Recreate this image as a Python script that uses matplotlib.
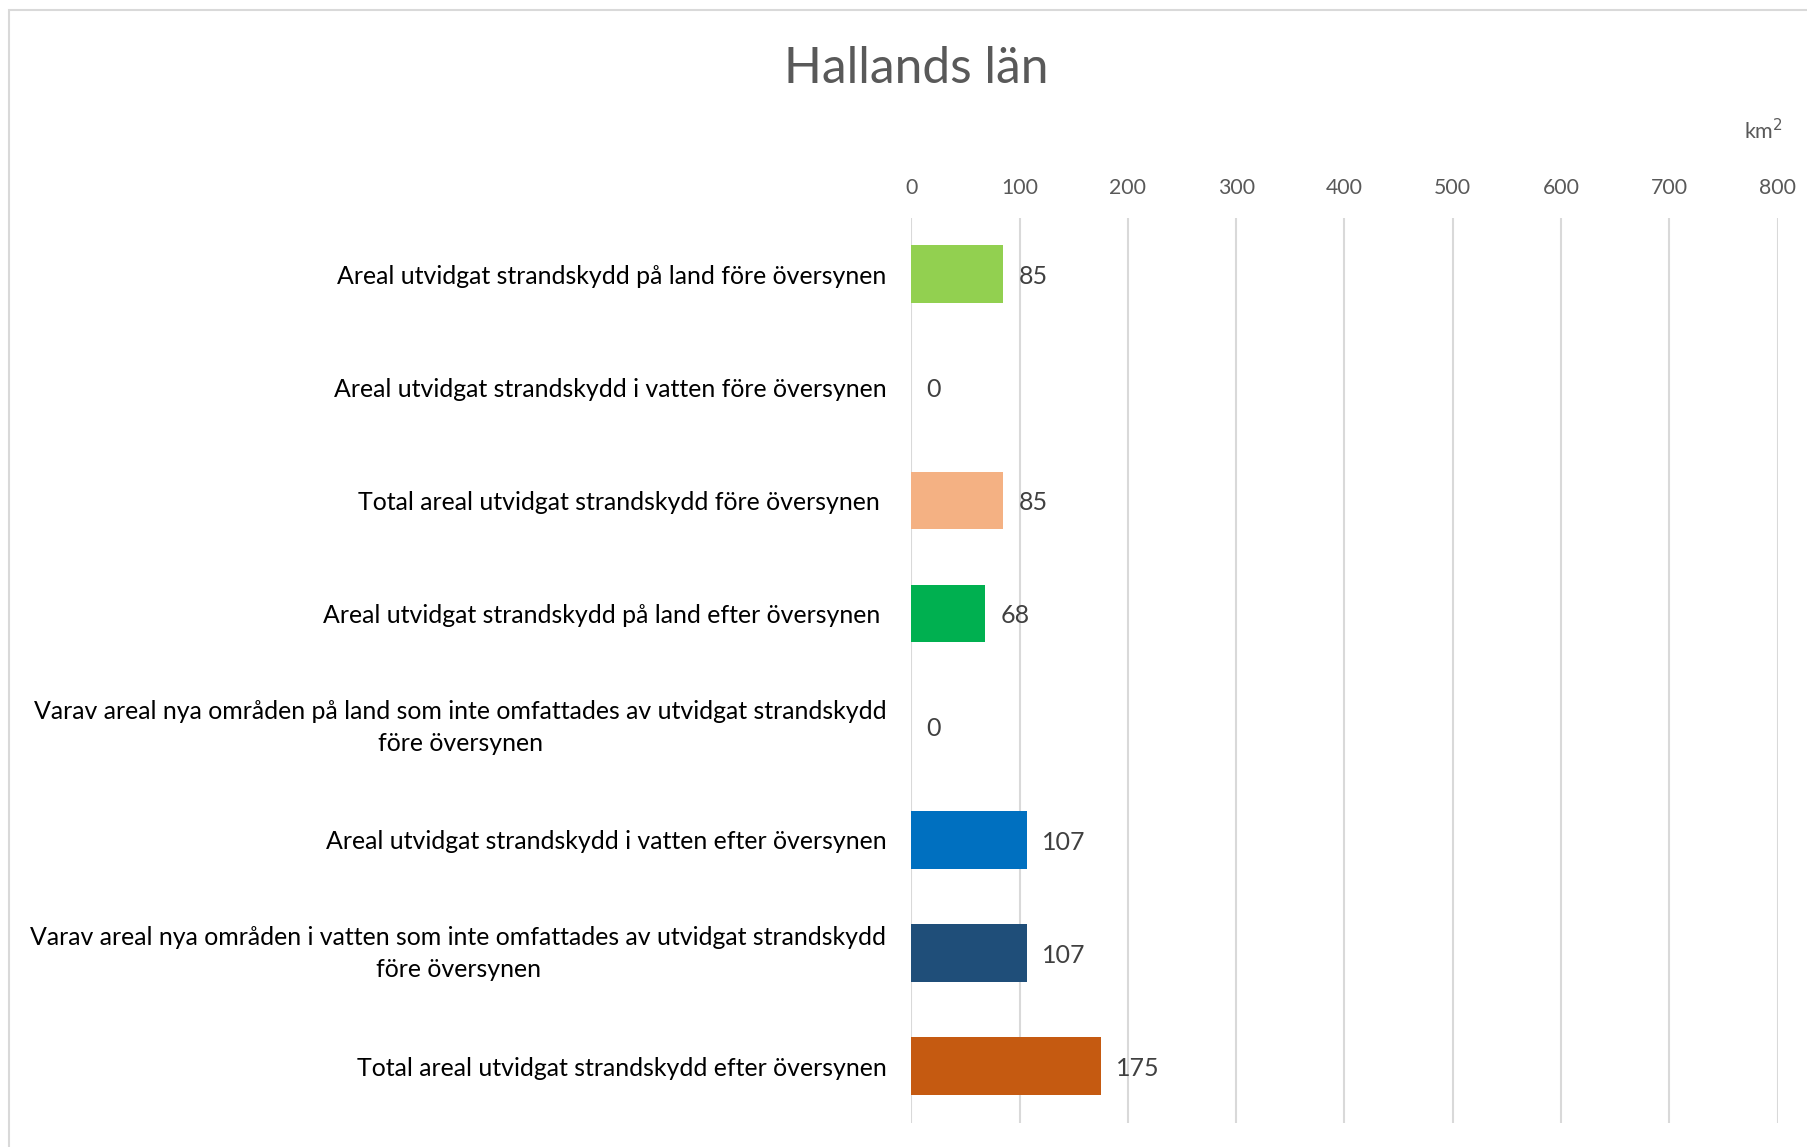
import matplotlib.pyplot as plt
from matplotlib.patches import Rectangle
from matplotlib.transforms import ScaledTranslation

# Kategorier (uppifrån och ned) och värden i km2
kategorier = [
    "Areal utvidgat strandskydd på land före översynen",
    "Areal utvidgat strandskydd i vatten före översynen",
    "Total areal utvidgat strandskydd före översynen ",
    "Areal utvidgat strandskydd på land efter översynen ",
    "Varav areal nya områden på land som inte omfattades av utvidgat strandskydd\nföre översynen",
    "Areal utvidgat strandskydd i vatten efter översynen",
    "Varav areal nya områden i vatten som inte omfattades av utvidgat strandskydd\nföre översynen",
    "Total areal utvidgat strandskydd efter översynen",
]
varden = [85, 0, 85, 68, 0, 107, 107, 175]
farger = ["#92D050", "#9DC3E6", "#F4B183", "#00B050", "#A9D18E", "#0070C0", "#1F4E79", "#C55A11"]
xticks = [0, 100, 200, 300, 400, 500, 600, 700, 800]

plt.rcParams['font.family'] = ['Lato', 'DejaVu Sans']

fig = plt.figure(figsize=(18.07, 11.47), dpi=100)
ax = fig.add_axes([0.5044, 0.0213, 0.4793, 0.7889])

y = list(range(len(kategorier)))
ax.barh(y, varden, height=0.51, color=farger, zorder=3)
ax.set_ylim(len(kategorier) - 0.5, -0.5)
ax.set_xlim(0, 800)

# värdeetiketter
for yi, v in zip(y, varden):
    ax.text(v + 14, yi + 0.02, str(v), va='center', ha='left', fontsize=18, color='#404040')

ax.set_yticks(y)
ax.set_yticklabels(kategorier, fontsize=17.9, color='#000000', multialignment='center',
                   linespacing=1.45)
ax.tick_params(axis='y', length=0, pad=18)

# tvåradiga etiketter lite uppåt
for lbl in ax.get_yticklabels():
    if "\n" in lbl.get_text():
        lbl.set_transform(lbl.get_transform() + ScaledTranslation(0, 4 / 72, fig.dpi_scale_trans))

ax.xaxis.tick_top()
ax.set_xticks(xticks)
ax.set_xticklabels([str(t) for t in xticks], fontsize=15.3, color='#595959')
ax.tick_params(axis='x', length=0, pad=14)

ax.grid(axis='x', color='#D9D9D9', linewidth=1.5, zorder=0)
for s in ax.spines.values():
    s.set_visible(False)

fig.text(0.507, 0.940, "Hallands län", ha='center', va='center', fontsize=35.7, color='#595959')
fig.text(0.9757, 0.886, "km$^2$", ha='center', va='center', fontsize=15.5, color='#595959')

# diagramram
fig.patches.append(Rectangle((9 / 1807, -0.01), 1.0, 1 - 10 / 1147 + 0.01, transform=fig.transFigure,
                             fill=False, edgecolor='#D9D9D9', linewidth=1.5))

fig.savefig("out.png", dpi=100)
